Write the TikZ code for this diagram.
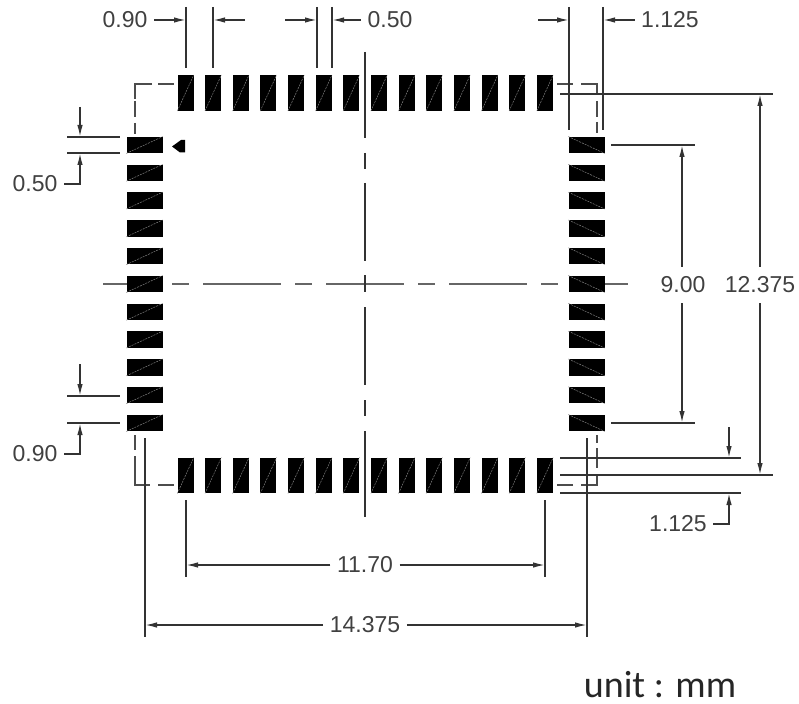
\documentclass[tikz,border=0pt]{standalone}
\usepackage{fontspec}
\setmainfont{Liberation Sans}
\newfontfamily\unitfont{Carlito}
\usetikzlibrary{
    calc,
    arrows.meta
}
\tikzset{
  padh/.style = {
      rectangle,
      fill=black,
      minimum width=36pt,
      minimum height=16.5pt,
      inner sep=0pt
  },
  padv/.style = {
      rectangle,
      fill=black,
      minimum width=16pt,
      minimum height=35.5pt,
      inner sep=0pt
  },
  hatch/.style = {
      draw=black!50,
      line width=0.5pt,
      dash pattern=on 2pt off 1pt
  },
  outline/.style = {
      draw=black!70,
      line width=1.8pt
  },
  center line/.style = {
      draw=black!80,
      line width=1.6pt
  },
  ext/.style = {
      draw=black!80,
      line width=1.5pt
  },
  dim/.style = {
      ext,
      -{Latex[length=12pt,width=5.5pt]}
  },
  dimtext/.style = {
      font=\fontsize{23}{25}\selectfont,
      text=black!75,
      inner xsep=6.5pt,
      inner ysep=10pt
  }
}
\begin{document}
\begin{tikzpicture}[x=1pt,y=-1pt]
    \useasboundingbox (0,0) rectangle (799,703);
    % Center lines
    \path[center line, draw=black!60, line width=1.8pt, dash pattern=on 78pt off 14pt on 17pt off 14pt, dash phase=23pt]
    (103,284) -- (628,284);
    \path[center line]
    (365,52) -- (365,138)
    (365,153) -- (365,169)
    (365,183) -- (365,261)
    (365,275) -- (365,292)
    (365,307) -- (365,385)
    (365,400) -- (365,416)
    (365,431) -- (365,517);
    % Package outline
    \path[outline]
    (152,84) -- (135,84) -- (135,99)
    (158,84) -- (174,84)
    (135,101) -- (135,117)
    (135,123) -- (135,134)
    (557,84) -- (573,84)
    (581,84) -- (597,84) -- (597,93)
    (597,101) -- (597,117)
    (597,122) -- (597,133)
    (135,435) -- (135,450)
    (135,456) -- (135,485) -- (150,485)
    (158,485) -- (174,485)
    (597,435) -- (597,443)
    (597,448) -- (597,468)
    (597,475) -- (597,485) -- (581,485)
    (573,485) -- (557,485);
    % Pads
    \foreach \i in {0,...,13} {
        \node[padv] (t\i) at ({185.5+27.65*\i},93) {};
        \node[padv] (b\i) at ({185.5+27.65*\i},475.5) {};
        \draw[hatch] (t\i.south west) -- (t\i.north east);
        \draw[hatch] (b\i.south west) -- (b\i.north east);
    }
    \foreach \i in {0,...,10} {
        \node[padh] (l\i) at (144.5,{145+27.8*\i}) {};
        \node[padh] (r\i) at (586.5,{145+27.8*\i}) {};
        \draw[hatch] (l\i.south west) -- (l\i.north east);
        \draw[hatch] (r\i.north west) -- (r\i.south east);
    }
    % Pin one mark
    \fill (172,146.5) -- (181,140) -- (185,140) -- (185,152.5) -- (180,152.5) -- cycle;
    % Labels
    \node[dimtext] (top90) at (125,20) {0.90};
    \node[dimtext] (top50) at (390,20) {0.50};
    \node[dimtext] (top1125) at (670,20) {1.125};
    \node[dimtext] (left50) at (35,184) {0.50};
    \node[dimtext] (left90) at (35,454) {0.90};
    \node[dimtext] (right1125) at (678,524) {1.125};
    \node[dimtext] (span900) at (683,285) {9.00};
    \node[dimtext] (span12375) at (760,285) {12.375};
    \node[dimtext] (span1170) at (365,565) {11.70};
    \node[dimtext] (span14375) at (365,625) {14.375};
    \node[font=\unitfont\fontsize{38}{40}\selectfont, text=black!85, inner sep=0pt] (unit) at (660,685) {unit : mm};
    % Extension lines
    \path[ext]
    (186,7) -- (186,68)
    (213,7) -- (213,68)
    (317,7) -- (317,68)
    (332,7) -- (332,68)
    (569,7) -- (569,130)
    (603,7) -- (603,130)
    (560,94) -- (773,94)
    (611,145) -- (695,145)
    (611,423) -- (695,423)
    (560,458) -- (741,458)
    (560,475) -- (773,475)
    (560,493) -- (741,493)
    (67,137) -- (120,137)
    (67,153) -- (120,153)
    (67,396) -- (120,396)
    (67,423) -- (120,423)
    (186,500) -- (186,577)
    (545,500) -- (545,577)
    (145,438) -- (145,637)
    (587,438) -- (587,637);
    % Dimensions
    \draw[dim] (top90.east) -- (186,20);
    \draw[dim] (245,20) -- (213,20);
    \draw[dim] (285,20) -- (317,20);
    \draw[dim] (top50.west) -- (332,20);
    \draw[dim] (538,20) -- (569,20);
    \draw[dim] (top1125.west) -- (603,20);
    \draw[dim] (80,107) -- (80,137);
    \draw[dim] (left50.east) -| (80,153);
    \draw[dim] (80,364) -- (80,396);
    \draw[dim] (left90.east) -| (80,423);
    \draw[dim] (span900.north -| 682,0) -- (682,145);
    \draw[dim] (span900.south -| 682,0) -- (682,423);
    \draw[dim] (span12375.north) -- (760,94);
    \draw[dim] (span12375.south) -- (760,475);
    \draw[dim] (729,427) -- (729,458);
    \draw[dim] (right1125.east) -| (729,493);
    \draw[dim] (span1170.west) -- (186,565);
    \draw[dim] (span1170.east) -- (545,565);
    \draw[dim] (span14375.west) -- (145,625);
    \draw[dim] (span14375.east) -- (587,625);
\end{tikzpicture}
\end{document}
